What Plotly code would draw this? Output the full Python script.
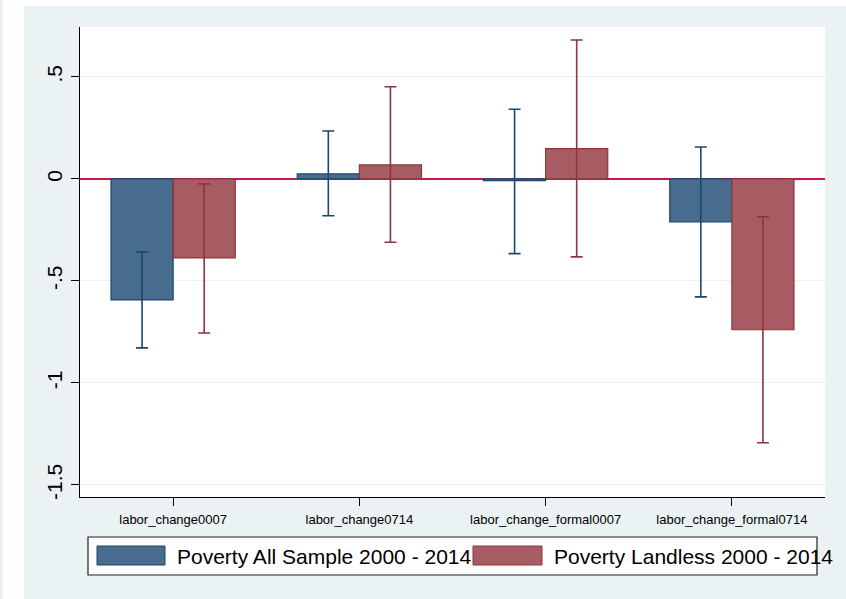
import plotly.graph_objects as go

# Coefficients with 95% confidence bounds by labour-change variable
categories = ["labor_change0007", "labor_change0714",
              "labor_change_formal0007", "labor_change_formal0714"]

all_sample = [-0.593, 0.025, -0.008, -0.211]
all_lo = [-0.828, -0.180, -0.366, -0.578]
all_hi = [-0.358, 0.235, 0.342, 0.157]

landless = [-0.387, 0.069, 0.149, -0.739]
land_lo = [-0.755, -0.310, -0.382, -1.293]
land_hi = [-0.024, 0.452, 0.681, -0.185]

series_names = ["Poverty All Sample 2000 - 2014", "Poverty Landless 2000 - 2014"]

ytick_vals = [0.5, 0, -0.5, -1, -1.5]
ytick_text = [".5", "0", "-.5", "-1", "-1.5"]

BG = "#eaf2f3"
NAVY_FILL, NAVY_LINE = "#486c8e", "#1a476f"
MAROON_FILL, MAROON_LINE = "#a65c62", "#90353b"
FONT = "Liberation Sans, Arial, sans-serif"


def bar_trace(name, vals, lo, hi, fill, line):
    return go.Bar(
        x=categories, y=vals, name=name,
        marker=dict(color=fill, line=dict(color=line, width=1.2)),
        error_y=dict(
            type="data", symmetric=False,
            array=[h - v for v, h in zip(vals, hi)],
            arrayminus=[v - l for v, l in zip(vals, lo)],
            color=line, thickness=1.6, width=6,
        ),
        showlegend=False,
    )


fig = go.Figure([
    bar_trace(series_names[0], all_sample, all_lo, all_hi, NAVY_FILL, NAVY_LINE),
    bar_trace(series_names[1], landless, land_lo, land_hi, MAROON_FILL, MAROON_LINE),
])

# Plot-area geometry in pixels, used to place the hand-drawn legend
L, R, T, B = 80, 825, 27, 497
W, H = R - L, B - T


def px(x):
    return (x - L) / W


def py(y):
    return (B - y) / H


shapes = [
    # white strips framing the grey graph region
    dict(type="rect", xref="paper", yref="paper", x0=px(3), x1=px(24),
         y0=py(599), y1=py(0), fillcolor="white", line_width=0, layer="below"),
    dict(type="rect", xref="paper", yref="paper", x0=px(3), x1=px(846),
         y0=py(6), y1=py(0), fillcolor="white", line_width=0, layer="below"),
    # legend box
    dict(type="rect", xref="paper", yref="paper", x0=px(88), x1=px(817),
         y0=py(575), y1=py(537), fillcolor="white",
         line=dict(color="#222222", width=1.2)),
    dict(type="rect", xref="paper", yref="paper", x0=px(97), x1=px(165),
         y0=py(565), y1=py(546), fillcolor=NAVY_FILL,
         line=dict(color=NAVY_LINE, width=1)),
    dict(type="rect", xref="paper", yref="paper", x0=px(473), x1=px(542),
         y0=py(565), y1=py(546), fillcolor=MAROON_FILL,
         line=dict(color=MAROON_LINE, width=1)),
]

annotations = [
    dict(xref="paper", yref="paper", x=px(175), y=py(556), text=series_names[0],
         xanchor="left", yanchor="middle", showarrow=False,
         font=dict(family=FONT, size=21, color="#000000")),
    dict(xref="paper", yref="paper", x=px(552), y=py(556), text=series_names[1],
         xanchor="left", yanchor="middle", showarrow=False,
         font=dict(family=FONT, size=21, color="#000000")),
]

fig.update_layout(
    width=846, height=599,
    margin=dict(l=L, r=846 - R, t=T, b=599 - B),
    paper_bgcolor=BG, plot_bgcolor="white",
    barmode="group", bargap=0.333, bargroupgap=0,
    shapes=shapes, annotations=annotations,
    font=dict(family=FONT, color="#000000"),
)

fig.update_xaxes(
    type="category", range=[-0.5, 3.5],
    showline=True, linecolor="#000000", linewidth=1.2,
    ticks="outside", ticklen=8, tickcolor="#000000", tickwidth=1.2,
    tickfont=dict(size=13), showgrid=False, mirror=False,
    ticklabelstandoff=2,
)

fig.update_yaxes(
    range=[-1.559, 0.745],
    tickvals=ytick_vals, ticktext=ytick_text, tickangle=-90,
    showline=True, linecolor="#000000", linewidth=1.2,
    ticks="outside", ticklen=8, tickcolor="#000000", tickwidth=1.2,
    tickfont=dict(size=21), ticklabelstandoff=1,
    showgrid=True, gridcolor=BG, gridwidth=1.2,
    zeroline=True, zerolinecolor="#c8174a", zerolinewidth=1.6,
)

fig.write_html("out.html")
